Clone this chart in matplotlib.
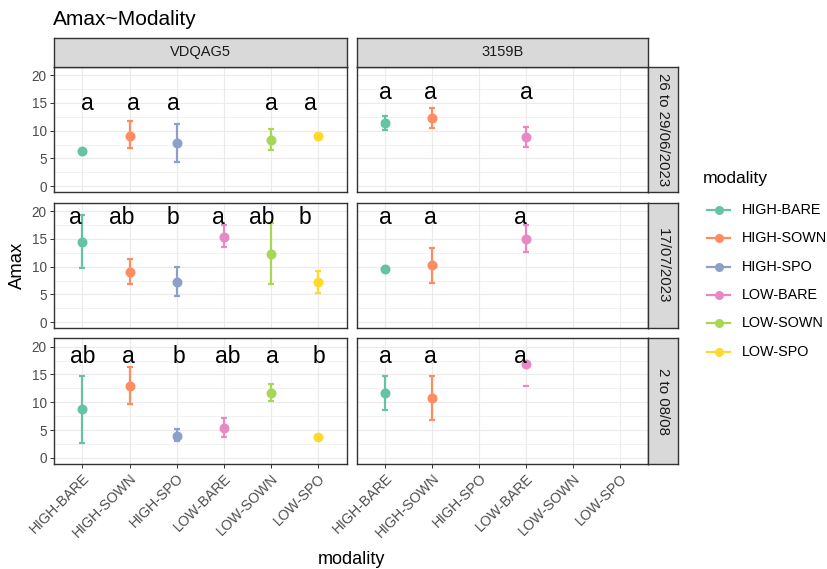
import numpy as np
import matplotlib
matplotlib.use("Agg")
import matplotlib.pyplot as plt
from matplotlib.lines import Line2D

plt.rcParams['font.family'] = ['Liberation Sans', 'DejaVu Sans']

nan = np.nan

modalities = ["HIGH-BARE", "HIGH-SOWN", "HIGH-SPO", "LOW-BARE", "LOW-SOWN", "LOW-SPO"]
colors = ["#66C2A5", "#FC8D62", "#8DA0CB", "#E78AC3", "#A6D854", "#FFD92F"]
sites = ["VDQAG5", "3159B"]
dates = ["26 to 29/06/2023", "17/07/2023", "2 to 08/08"]

# mean Amax per date (rows) and modality
mean_vdq = [[6.4, 9.1, 7.7, nan, 8.4, 9.1],
            [14.4, 9.0, 7.2, 15.4, 12.2, 7.2],
            [8.8, 12.9, 3.9, 5.4, 11.6, 3.7]]
low_vdq = [[6.1, 6.9, 4.3, nan, 6.5, 8.8],
           [9.7, 6.8, 4.8, 13.5, 6.8, 5.3],
           [2.7, 9.7, 3.1, 3.8, 10.2, 3.4]]
high_vdq = [[6.7, 11.7, 11.2, nan, 10.3, 9.4],
            [19.3, 11.3, 9.9, 17.4, 17.9, 9.3],
            [14.8, 16.4, 5.2, 7.1, 13.3, 4.0]]

mean_3159 = [[11.3, 12.2, nan, 8.8, nan, nan],
             [9.6, 10.3, nan, 15.0, nan, nan],
             [11.6, 10.7, nan, 16.9, nan, nan]]
low_3159 = [[10.1, 10.4, nan, 7.1, nan, nan],
            [9.3, 7.1, nan, 12.6, nan, nan],
            [8.6, 6.8, nan, 13.0, nan, nan]]
high_3159 = [[12.7, 14.1, nan, 10.7, nan, nan],
             [9.9, 13.4, nan, 17.4, nan, nan],
             [14.8, 14.7, nan, nan, nan, nan]]  # last upper bound off the scale

letters_vdq = [["a", "a", "a", "", "a", "a"],
               ["a", "ab", "b", "a", "ab", "b"],
               ["ab", "a", "b", "ab", "a", "b"]]
letters_3159 = [["a", "a", "", "a", "", ""],
                ["a", "a", "", "a", "", ""],
                ["a", "a", "", "a", "", ""]]
letter_y_vdq = [13.65, 17.6, 17.0]
letter_y_3159 = [15.7, 17.7, 17.0]

means = [mean_vdq, mean_3159]
lows = [low_vdq, low_3159]
highs = [high_vdq, high_3159]
letters = [letters_vdq, letters_3159]
letter_y = [letter_y_vdq, letter_y_3159]

# small horizontal nudges of the letters (layout only)
nudge = [[[0.11, 0.08, -0.08, 0, 0.01, -0.17],
          [-0.14, -0.16, -0.08, -0.11, -0.21, -0.29],
          [0, -0.02, 0.05, 0.07, 0.02, 0.01]],
         [[0, -0.04, 0, 0.02, 0, 0],
          [0.01, -0.03, 0, -0.12, 0, 0],
          [0.01, -0.03, 0, -0.12, 0, 0]]]

W, H = 827, 569
fig = plt.figure(figsize=(W / 100, H / 100), dpi=100)

def fx(px):
    return px / W

def fy(py):
    return 1 - py / H

col_x = [54, 356.7]
col_w = [292.7, 291.3]
row_y = [66.7, 202.7, 338.3]
row_h = 125.5
border = "#333333"
strip_fill = "#D9D9D9"
x = np.arange(1, 7)

for c in range(2):
    for r in range(3):
        ax = fig.add_axes([fx(col_x[c]), fy(row_y[r] + row_h), fx(col_w[c]), row_h / H])
        ax.set_xlim(0.4, 6.6)
        ax.set_ylim(-1.07, 21.5)
        ax.set_xticks(x)
        ax.set_yticks([0, 5, 10, 15, 20])
        ax.set_yticks([2.5, 7.5, 12.5, 17.5], minor=True)
        ax.grid(True, which="major", color="#EBEBEB", lw=0.8)
        ax.grid(True, which="minor", axis="y", color="#EBEBEB", lw=0.45)
        ax.set_axisbelow(True)
        for s in ax.spines.values():
            s.set_color(border)
            s.set_linewidth(1.0)
        ax.tick_params(which="major", length=3.2, width=0.7, color=border,
                       labelcolor="#4D4D4D", labelsize=9.8, pad=2)
        ax.tick_params(which="minor", length=0)
        if c == 0:
            ax.set_yticklabels(["0", "5", "10", "15", "20"])
        else:
            ax.tick_params(axis="y", which="major", length=0, labelleft=False)
        if r == 2:
            ax.set_xticklabels(modalities, rotation=45, ha="right", va="top",
                               rotation_mode="anchor")
            for lab in ax.get_xticklabels():
                lab.set_fontsize(10.2)
        else:
            ax.tick_params(axis="x", length=0, labelbottom=False)

        m = np.array(means[c][r], dtype=float)
        lo = np.array(lows[c][r], dtype=float)
        hi = np.array(highs[c][r], dtype=float)
        for i in range(6):
            if np.isnan(m[i]):
                continue
            col = colors[i]
            if not np.isnan(hi[i]):
                ax.errorbar(x[i], m[i], yerr=[[m[i] - lo[i]], [hi[i] - m[i]]],
                            fmt="none", ecolor=col, elinewidth=1.6, capsize=2.4,
                            capthick=1.6, zorder=3)
            else:
                ax.plot(x[i], lo[i], marker="_", color=col, ms=4.8, mew=1.6, zorder=3)
            ax.plot(x[i], m[i], "o", color=col, ms=7.2, mec="none", zorder=4)
        for i in range(6):
            if letters[c][r][i]:
                ax.text(x[i] + nudge[c][r][i], letter_y[c][r], letters[c][r][i],
                        ha="center", va="baseline", fontsize=16.5, color="black",
                        zorder=5)

        # right strips
        if c == 1:
            sax = fig.add_axes([fx(648), fy(row_y[r] + row_h), fx(30), row_h / H])
            sax.set_facecolor(strip_fill)
            sax.set_xticks([])
            sax.set_yticks([])
            for s in sax.spines.values():
                s.set_color(border)
                s.set_linewidth(1.0)
            sax.text(0.5, 0.5, dates[r], rotation=-90, ha="center", va="center",
                     fontsize=10.8, color="#1A1A1A", transform=sax.transAxes)

    # top strips
    tax = fig.add_axes([fx(col_x[c]), fy(66.7), fx(col_w[c]), 29 / H])
    tax.set_facecolor(strip_fill)
    tax.set_xticks([])
    tax.set_yticks([])
    for s in tax.spines.values():
        s.set_color(border)
        s.set_linewidth(1.0)
    tax.text(0.5, 0.5, sites[c], ha="center", va="center", fontsize=10.5,
             color="#1A1A1A", transform=tax.transAxes)

fig.text(fx(53), fy(25), "Amax~Modality", fontsize=15, ha="left", va="baseline")
fig.text(fx(17.5), fy(265), "Amax", rotation=90, fontsize=13.3, ha="center", va="center")
fig.text(fx(351), fy(559), "modality", fontsize=13, ha="center", va="center")

# legend
fig.text(fx(703), fy(178), "modality", fontsize=12.6, ha="left", va="center")
for i, name in enumerate(modalities):
    yy = fy(210 + i * 28.3)
    fig.add_artist(Line2D([fx(707), fx(730)], [yy, yy], color=colors[i], lw=1.6,
                          transform=fig.transFigure))
    fig.add_artist(Line2D([fx(718.5)], [yy], marker="o", color=colors[i], ms=6.5,
                          mec="none", transform=fig.transFigure))
    fig.text(fx(742), yy, name, fontsize=10.4, ha="left", va="center", color="black")

fig.savefig("out.png", dpi=100)
